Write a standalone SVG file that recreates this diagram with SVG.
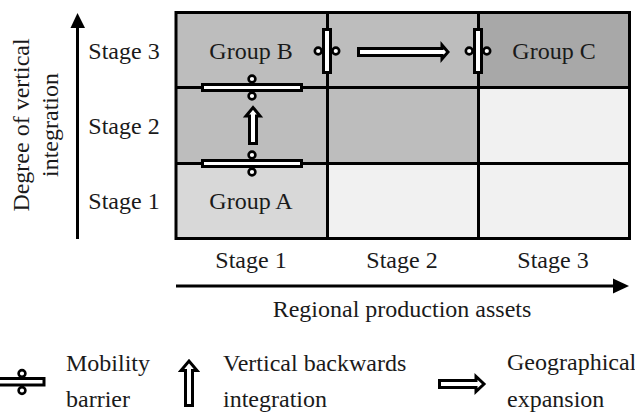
<svg xmlns="http://www.w3.org/2000/svg" width="635" height="412" viewBox="0 0 635 412">
<style>
text{font-family:"Liberation Serif","Times New Roman",serif;font-size:24px;fill:#1a1a1a}
.m{text-anchor:middle}
.g{stroke:#000;stroke-width:3;fill:none}
.b{fill:#fff;stroke:#000;stroke-width:3}
.c{fill:#fff;stroke:#000;stroke-width:2.6}
.ax{stroke:#000;stroke-width:3;fill:none}
.bl{fill:#fff;stroke:#000;stroke-width:3;stroke-linejoin:miter}
</style>
<defs>
<g id="hbar"><circle class="c" cx="0" cy="-8.500" r="3.400"/><circle class="c" cx="0" cy="8.500" r="3.400"/><rect class="b" x="-49.500" y="-3" width="99" height="6"/></g>
<g id="vbar"><circle class="c" cx="-8.800" cy="0" r="3.400"/><circle class="c" cx="8.800" cy="0" r="3.400"/><rect class="b" x="-3.500" y="-21.500" width="7" height="43"/></g>
</defs>
<g id="cells">
<rect x="176" y="12" width="151" height="75" fill="#bdbdbd"/>
<rect x="327" y="12" width="151" height="75" fill="#bdbdbd"/>
<rect x="478" y="12" width="151" height="75" fill="#a8a8a8"/>
<rect x="176" y="87" width="151" height="76" fill="#bdbdbd"/>
<rect x="327" y="87" width="151" height="76" fill="#bdbdbd"/>
<rect x="478" y="87" width="151" height="76" fill="#f1f1f1"/>
<rect x="176" y="163" width="151" height="75" fill="#d8d8d8"/>
<rect x="327" y="163" width="151" height="75" fill="#f1f1f1"/>
<rect x="478" y="163" width="151" height="75" fill="#f1f1f1"/>
<path class="g" d="M176 12.500H629.500V238.500H176ZM327.500 12V238M478.500 12V238M176 87.500H629M176 163.500H629"/>
</g>
<g id="connectors">
<path class="ax" d="M77.500 239V24"/><path d="M70.500 28L77.500 13L85 28Z"/>
<path class="ax" d="M176 286H616"/><path d="M613 278.500L629 286L613 293.500Z"/>
<use href="#hbar" x="252" y="87.500"/>
<use href="#hbar" x="252" y="163.500"/>
<use href="#vbar" x="327" y="51"/>
<use href="#vbar" x="478" y="51"/>
<path class="bl" d="M358.500 48.500H442V45L448 52L442 59V55.500H358.500Z"/>
<path class="bl" d="M249.500 143.500V116H246L253 107.500L260 116H256.500V143.500Z"/>
</g>
<g id="legend">
<g id="legend-barrier">
<circle class="c" cx="22" cy="373.500" r="3.400"/><circle class="c" cx="22" cy="390.500" r="3.400"/>
<rect class="b" x="-2" y="378.500" width="46" height="6.500"/>
</g>
<path class="bl" d="M185.500 405.500V370.500H181L189 361L197 370.500H192.500V405.500Z"/>
<path class="bl" d="M439.500 380.500H476V376.500L484 384L476 391.500V387.500H439.500Z"/>
<text x="66" y="371">Mobility</text><text x="66" y="407">barrier</text>
<text x="223" y="371">Vertical backwards</text><text x="223" y="407">integration</text>
<text x="507" y="370">Geographical</text><text x="507" y="407">expansion</text>
</g>
<g id="labels">
<text class="m" x="251" y="59">Group B</text>
<text class="m" x="554" y="59">Group C</text>
<text class="m" x="251" y="209">Group A</text>
<text class="m" x="124" y="59">Stage 3</text>
<text class="m" x="124" y="134">Stage 2</text>
<text class="m" x="124" y="209">Stage 1</text>
<text class="m" x="251" y="268">Stage 1</text>
<text class="m" x="402" y="268">Stage 2</text>
<text class="m" x="553" y="268">Stage 3</text>
<text class="m" x="402" y="317">Regional production assets</text>
<text class="m" transform="translate(29 125) rotate(-90)">Degree of vertical</text>
<text class="m" transform="translate(58 125) rotate(-90)">integration</text>
</g>
</svg>
